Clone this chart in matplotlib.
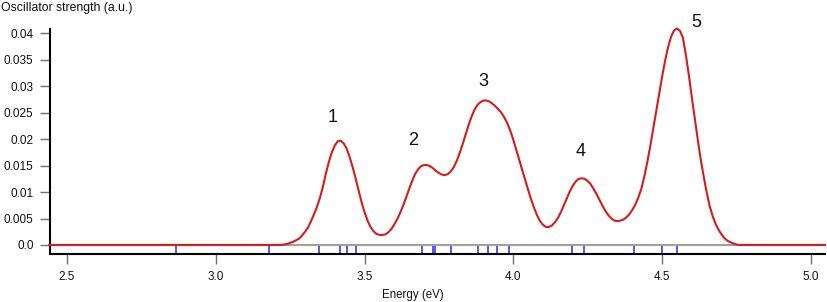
import matplotlib
matplotlib.use("Agg")
import matplotlib.pyplot as plt

plt.rcParams['font.family'] = ['Liberation Sans', 'DejaVu Sans']

# Broadened spectrum (energy in eV, oscillator strength)
energy = [2.44, 3.22, 3.24, 3.26, 3.27, 3.28, 3.29, 3.30, 3.31, 3.32, 3.33, 3.34, 3.35,
          3.36, 3.37, 3.38, 3.39, 3.40, 3.41, 3.42, 3.43, 3.44, 3.45, 3.46, 3.47, 3.48,
          3.49, 3.50, 3.51, 3.52, 3.53, 3.54, 3.55, 3.56, 3.57, 3.58, 3.59, 3.60, 3.61,
          3.62, 3.63, 3.64, 3.65, 3.66, 3.67, 3.68, 3.69, 3.70, 3.71, 3.72, 3.73, 3.74,
          3.75, 3.76, 3.77, 3.78, 3.79, 3.80, 3.81, 3.82, 3.83, 3.84, 3.85, 3.86, 3.87,
          3.88, 3.89, 3.90, 3.91, 3.92, 3.93, 3.94, 3.95, 3.96, 3.97, 3.98, 3.99, 4.00,
          4.01, 4.02, 4.03, 4.04, 4.05, 4.06, 4.07, 4.08, 4.09, 4.10, 4.11, 4.12, 4.13,
          4.14, 4.15, 4.16, 4.17, 4.18, 4.19, 4.20, 4.21, 4.22, 4.23, 4.24, 4.25, 4.26,
          4.27, 4.28, 4.29, 4.30, 4.31, 4.32, 4.33, 4.34, 4.35, 4.36, 4.37, 4.38, 4.39,
          4.40, 4.41, 4.42, 4.43, 4.44, 4.45, 4.46, 4.47, 4.48, 4.49, 4.50, 4.51, 4.52,
          4.53, 4.54, 4.55, 4.56, 4.57, 4.58, 4.59, 4.60, 4.61, 4.62, 4.63, 4.64, 4.65,
          4.66, 4.67, 4.68, 4.69, 4.70, 4.71, 4.72, 4.73, 4.74, 4.75, 4.76, 5.048]
strength = [0.0, 0.0, 0.0002, 0.0006, 0.0009, 0.0012, 0.0018, 0.0025, 0.0033, 0.0045, 0.0058, 0.0072, 0.0089,
            0.0110, 0.0135, 0.0157, 0.0175, 0.0188, 0.0196, 0.0197, 0.0192, 0.0182, 0.0166, 0.0147, 0.0126, 0.0103,
            0.0081, 0.0062, 0.0046, 0.0034, 0.0026, 0.0021, 0.0019, 0.0019, 0.0020, 0.0024, 0.0030, 0.0039, 0.0049,
            0.0061, 0.0075, 0.0090, 0.0106, 0.0121, 0.0134, 0.0143, 0.0149, 0.0151, 0.0151, 0.0149, 0.0145, 0.0140,
            0.0136, 0.0133, 0.0132, 0.0134, 0.0139, 0.0147, 0.0159, 0.0174, 0.0191, 0.0209, 0.0227, 0.0243, 0.0256,
            0.0265, 0.0270, 0.0273, 0.0273, 0.0271, 0.0267, 0.0262, 0.0256, 0.0250, 0.0241, 0.0230, 0.0216, 0.0199,
            0.0180, 0.0161, 0.0142, 0.0123, 0.0104, 0.0086, 0.0070, 0.0056, 0.0045, 0.0038, 0.0034, 0.0034, 0.0037,
            0.0043, 0.0051, 0.0062, 0.0075, 0.0088, 0.0101, 0.0112, 0.0120, 0.0125, 0.0126, 0.0125, 0.0121, 0.0115,
            0.0106, 0.0096, 0.0085, 0.0074, 0.0064, 0.0056, 0.0050, 0.0046, 0.0045, 0.0046, 0.0048, 0.0052, 0.0058,
            0.0066, 0.0076, 0.0089, 0.0105, 0.0128, 0.0155, 0.0185, 0.0218, 0.0252, 0.0285, 0.0317, 0.0347, 0.0373,
            0.0393, 0.0405, 0.0409, 0.0405, 0.0392, 0.0360, 0.0322, 0.0280, 0.0240, 0.0200, 0.0162, 0.0130, 0.0100,
            0.0074, 0.0055, 0.0040, 0.0029, 0.0020, 0.0013, 0.0008, 0.0005, 0.0003, 0.0001, 0.0, 0.0]

# Transition energies (sticks)
transitions = [2.865, 3.180, 3.348, 3.416, 3.441, 3.471, 3.693, 3.731, 3.737, 3.791,
               3.880, 3.915, 3.944, 3.985, 4.199, 4.239, 4.407, 4.500, 4.552]

# Peak labels
peak_labels = ["1", "2", "3", "4", "5"]
peak_label_x = [3.394, 3.663, 3.899, 4.228, 4.615]
peak_label_y = [0.0240, 0.0197, 0.0308, 0.0176, 0.0421]

xticks = [2.5, 3.0, 3.5, 4.0, 4.5, 5.0]
xtick_labels = ["2.5", "3.0", "3.5", "4.0", "4.5", "5.0"]
yticks = [0.0, 0.005, 0.01, 0.015, 0.02, 0.025, 0.03, 0.035, 0.04]
ytick_labels = ["0.0", "0.005", "0.01", "0.015", "0.02", "0.025", "0.03", "0.035", "0.04"]

fig = plt.figure(figsize=(8.27, 3.02), dpi=100)
ax = fig.add_axes([0.0599, 0.158, 0.9377, 0.758])

xmin, xmax = 2.441, 5.048
ymin, ymax = -0.00176, 0.0415
ax.set_xlim(xmin, xmax)
ax.set_ylim(ymin, ymax)

ax.vlines(transitions, ymin, 0, colors='#3a3ae6', linewidth=1.2, zorder=2)
ax.axhline(0, color='#a0a0a0', linewidth=1.5, zorder=3)
ax.plot(energy, strength, color='#d41c1c', linewidth=1.5, zorder=4, clip_on=False,
        solid_joinstyle='round')

for lab, lx, ly in zip(peak_labels, peak_label_x, peak_label_y):
    ax.text(lx, ly, lab, fontsize=13, ha='center', va='center', color='#111111', clip_on=False)

ax.set_xticks(xticks)
ax.set_xticklabels(xtick_labels)
ax.set_yticks(yticks)
ax.set_yticklabels(ytick_labels)

for side in ['top', 'right']:
    ax.spines[side].set_visible(False)
ax.spines['left'].set_linewidth(1.5)
ax.spines['bottom'].set_linewidth(1.5)
ax.spines['left'].set_bounds(ymin, 0.0408)

ax.tick_params(axis='both', direction='out', length=7, width=1, color='#707070',
               labelsize=8.5, labelcolor='#111111')
ax.tick_params(axis='x', pad=5)
ax.tick_params(axis='y', pad=4.5)

fig.text(413 / 827, 1 - 295 / 302, "Energy (eV)", fontsize=8.3, ha='center', va='center', color='#111111')
fig.text(1 / 827, 1 - 8 / 302, "Oscillator strength (a.u.)", fontsize=8.8, ha='left', va='center', color='#111111')

fig.savefig("out.png", dpi=100)
